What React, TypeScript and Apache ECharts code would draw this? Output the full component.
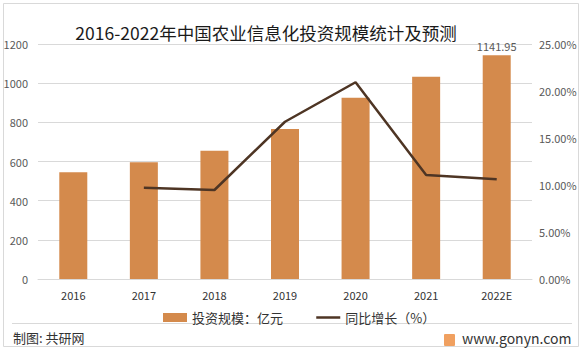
import React, { useEffect, useRef } from "react";
import * as echarts from "echarts";

const categories = ["2016", "2017", "2018", "2019", "2020", "2021", "2022E"];
const investment = [545, 596, 655, 766, 926, 1033, 1141.95];
const growth = [null, 0.0971, 0.0947, 0.1673, 0.2093, 0.1106, 0.106];
const leftTicks = { min: 0, max: 1200, interval: 200 };
const rightTicks = { min: 0, max: 0.25, interval: 0.05 };

const FONT = "'Noto Sans CJK SC', 'Noto Sans', sans-serif";

export default function App() {
  const ref = useRef<HTMLDivElement>(null);
  useEffect(() => {
    if (!ref.current) return;
    const chart = echarts.init(ref.current, null, { renderer: "svg" });
    chart.setOption({
      animation: false,
      backgroundColor: "#ffffff",
      textStyle: { fontFamily: FONT },
      title: {
        text: "2016-2022年中国农业信息化投资规模统计及预测",
        left: 261,
        textAlign: "center",
        top: 19,
        textStyle: { fontSize: 17.5, fontWeight: "normal", color: "#1a1a1a", fontFamily: FONT },
      },
      grid: { left: 38, right: 50, top: 44, bottom: 72 },
      legend: {
        left: 158,
        top: 306,
        itemGap: 32,
        itemWidth: 24,
        itemHeight: 9,
        textStyle: { fontSize: 13, color: "#333", fontFamily: FONT },
        data: [
          { name: "投资规模：亿元", icon: "rect" },
          {
            name: "同比增长（%）",
            itemStyle: { opacity: 0 },
            lineStyle: { width: 2.5, color: "#4e3524" },
          },
        ],
      },
      xAxis: {
        type: "category",
        data: categories,
        axisLine: { lineStyle: { color: "#d9d9d9" } },
        axisTick: { show: false },
        axisLabel: { fontSize: 11, color: "#333", margin: 10 },
      },
      yAxis: [
        {
          type: "value",
          ...leftTicks,
          axisLine: { show: false },
          axisTick: { show: false },
          axisLabel: {
            fontSize: 11,
            color: "#595959",
            margin: 10,
            formatter: (v: number) => String(v),
          },
          splitLine: { lineStyle: { color: "#d9d9d9" } },
        },
        {
          type: "value",
          ...rightTicks,
          axisLine: { show: false },
          axisTick: { show: false },
          splitLine: { show: false },
          axisLabel: {
            fontSize: 11,
            color: "#595959",
            margin: 7,
            formatter: (v: number) => (v * 100).toFixed(2) + "%",
          },
        },
      ],
      series: [
        {
          name: "投资规模：亿元",
          type: "bar",
          data: investment.map((v, i) =>
            i === investment.length - 1
              ? {
                  value: v,
                  label: {
                    show: true,
                    position: "top",
                    fontSize: 11,
                    color: "#595959",
                    distance: 4,
                    formatter: (p: any) => p.value.toFixed(2),
                  },
                }
              : v
          ),
          barWidth: 28,
          itemStyle: { color: "#d48a4c" },
        },
        {
          name: "同比增长（%）",
          type: "line",
          yAxisIndex: 1,
          data: growth,
          symbol: "none",
          lineStyle: { color: "#4e3524", width: 2.5 },
          itemStyle: { color: "#4e3524" },
        },
      ],
      graphic: [
        {
          type: "rect",
          shape: { x: 3.5, y: 3.5, width: 575, height: 343 },
          style: { fill: "none", stroke: "#d9d9d9", lineWidth: 1 },
          silent: true,
        },
        {
          type: "line",
          shape: { x1: 12, y1: 323.5, x2: 572, y2: 323.5 },
          style: { stroke: "#d9d9d9", lineWidth: 1 },
        },
        {
          type: "text",
          left: 13,
          top: 331,
          style: { text: "制图: 共研网", fontSize: 13, fill: "#333", fontFamily: FONT },
        },
        {
          type: "rect",
          shape: { x: 444, y: 334, width: 11, height: 12, r: 1 },
          style: { fill: "#f0a060" },
        },
        {
          type: "text",
          left: 462,
          top: 331,
          style: { text: "www.gonyn.com", fontSize: 14, fill: "#333", fontFamily: FONT },
        },
      ],
    });
    return () => chart.dispose();
  }, []);
  return (
    <div
      ref={ref}
      style={{ position: "fixed", left: 0, top: 0, width: 582, height: 351 }}
    />
  );
}
